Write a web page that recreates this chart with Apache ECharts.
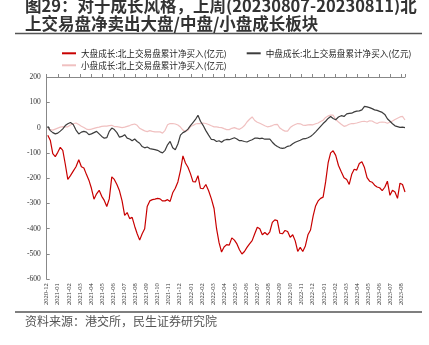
<!DOCTYPE html>
<html><head><meta charset="utf-8">
<script src="https://cdn.jsdelivr.net/npm/echarts@6/dist/echarts.min.js"></script>
<style>html,body{margin:0;padding:0;background:#fff}#c{width:429px;height:345px}</style>
</head><body><div id="c"></div>
<script>
// weekly observation dates (Fridays) starting here
const startDate = '2020-12-04';
const stepDays = 7;
const monthLabels = ['2020-12','2021-01','2021-02','2021-03','2021-04','2021-05','2021-06','2021-07','2021-08','2021-09','2021-10','2021-11','2021-12',
  '2022-01','2022-02','2022-03','2022-04','2022-05','2022-06','2022-07','2022-08','2022-09','2022-10','2022-11','2022-12',
  '2023-01','2023-02','2023-03','2023-04','2023-05','2023-06','2023-07','2023-08'];
const seriesNames = ['大盘成长:北上交易盘累计净买入(亿元)','中盘成长:北上交易盘累计净买入(亿元)','小盘成长:北上交易盘累计净买入(亿元)'];
const largeGrowth = [
  -30,-50,-103,-115,-98,-78,-90,-145,-205,-190,
  -172,-155,-127,-155,-160,-185,-208,-240,-283,-262,
  -248,-272,-288,-312,-282,-195,-205,-225,-250,-290,
  -347,-336,-360,-355,-390,-420,-445,-420,-400,-312,
  -290,-285,-283,-280,-282,-290,-290,-285,-292,-258,
  -240,-215,-170,-112,-140,-157,-182,-214,-215,-190,
  -240,-242,-225,-250,-282,-320,-400,-455,-492,-472,
  -463,-465,-436,-445,-460,-483,-500,-490,-474,-460,
  -447,-420,-394,-400,-424,-415,-424,-412,-375,-365,
  -368,-418,-420,-407,-411,-434,-424,-448,-490,-474,
  -490,-468,-424,-405,-350,-310,-290,-280,-275,-215,
  -140,-100,-92,-110,-150,-175,-198,-205,-225,-185,
  -165,-168,-142,-135,-158,-198,-212,-216,-228,-235,
  -238,-249,-236,-212,-268,-248,-255,-280,-220,-225,
  -255];
const midGrowth = [
  5,-12,-20,-25,-22,-14,-5,8,15,20,
  12,-10,-25,-18,-15,-18,-28,-25,-20,-15,
  -25,-35,-42,-40,-15,-2,-8,-20,-38,-35,
  -28,-42,-45,-52,-45,
  -55,-62,-75,-80,-77,-83,-85,-87,-90,-96,
  -100,-90,-68,-55,-80,-88,-65,-30,-20,-15,
  -6,8,20,32,49,25,9,-12,-30,-47,
  -48,-55,-52,-58,-50,
  -47,-48,-44,-40,-45,-52,-52,-55,-57,-52,
  -48,-42,-42,-44,-42,-46,-46,-46,-58,-68,
  -75,-80,-82,-80,-74,-72,-64,-58,-54,-50,
  -45,-44,-40,-35,-27,
  -17,-6,5,16,25,36,44,36,31,42,
  47,44,54,56,57,62,65,66,70,84,
  82,79,75,70,68,64,60,52,35,25,
  15,7,4,1,2,0];
const smallGrowth = [
  -5,-8,-10,-6,-2,2,4,3,3,10,
  15,18,12,5,0,-6,-8,-6,-3,0,
  2,5,6,6,8,9,4,4,2,0,
  2,5,8,
  12,14,9,-3,-8,-13,-16,-12,-15,-17,
  -17,-17,-22,-11,11,16,16,14,10,2,
  -10,-15,-10,4,8,14,16,16,18,16,
  12,7,3,3,1,
  0,-4,-8,-8,-3,0,-4,-7,-1,8,
  22,33,42,28,21,17,12,7,3,5,
  8,12,13,-2,-9,-14,-14,0,7,12,
  16,15,10,9,11,12,11,
  15,18,24,29,40,46,49,49,32,22,
  13,5,8,13,16,16,18,21,24,25,
  22,27,26,20,16,21,22,21,17,21,
  26,32,37,42,44,30];

const t0 = Date.parse(startDate + 'T00:00:00Z');
const dates = largeGrowth.map((_, i) => new Date(t0 + i * stepDays * 86400000));
function monthPos(d) {
  const y = d.getUTCFullYear(), m = d.getUTCMonth(), day = d.getUTCDate();
  const dim = new Date(Date.UTC(y, m + 1, 0)).getUTCDate();
  return (y - 2020) * 12 + (m - 11) + (day - 1) / dim;
}
const xs = dates.map(monthPos);
const xMax = xs[xs.length - 1];
const pairs = vals => vals.map((v, i) => [xs[i], v]);
const colors = ['#c80000', '#3c3c3c', '#f0c0c0'];

const chart = echarts.init(document.getElementById('c'));
const legendText = {fontSize: 8.6, fontFamily: 'Noto Sans CJK SC', color: '#222'};
chart.setOption({
  animation: false,
  title: [
    {text: '图29：对于成长风格，上周(20230807-20230811)北\n上交易盘净卖出大盘/中盘/小盘成长板块', left: 25, top: -3, padding: 0,
     textStyle: {fontSize: 16.5, fontWeight: 'bold', lineHeight: 17.5, color: '#333', fontFamily: 'Noto Sans CJK SC'}},
    {text: '资料来源：港交所，民生证券研究院', left: 25, top: 315, padding: 0,
     textStyle: {fontSize: 12, fontWeight: 'normal', color: '#555', fontFamily: 'Noto Sans CJK SC'}}
  ],
  graphic: [
    {type: 'line', shape: {x1: 15, y1: 33.5, x2: 422, y2: 33.5}, style: {stroke: '#555', lineWidth: 1.5}},
    {type: 'line', shape: {x1: 15, y1: 312, x2: 422, y2: 312}, style: {stroke: '#555', lineWidth: 1.5}}
  ],
  legend: [
    {data: [seriesNames[0], seriesNames[1]], left: 62, top: 49, padding: 0, itemWidth: 14, itemHeight: 2, itemGap: 20, icon: 'rect', textStyle: legendText},
    {data: [seriesNames[2]], left: 62, top: 61, padding: 0, itemWidth: 14, itemHeight: 2, icon: 'rect', textStyle: legendText}
  ],
  grid: {left: 46.7, right: 24, top: 77, bottom: 65.7},
  xAxis: [
    {type: 'value', min: 0, max: xMax, interval: 1, position: 'bottom',
     axisLine: {show: false}, axisTick: {show: false}, splitLine: {show: false},
     axisLabel: {rotate: 90, fontSize: 6.5, fontFamily: 'Liberation Serif', color: '#333', margin: 4,
       formatter: v => Math.abs(v - Math.round(v)) < 1e-6 ? (monthLabels[Math.round(v)] || '') : ''}},
    {type: 'value', min: 0, max: xMax, interval: 1, position: 'top',
     axisLine: {show: true, onZero: true, lineStyle: {color: '#888', width: 1}},
     axisTick: {show: true, length: 3, lineStyle: {color: '#888'}},
     axisLabel: {show: false}, splitLine: {show: false}}
  ],
  yAxis: {type: 'value', min: -600, max: 200, interval: 100,
    axisLine: {show: true, lineStyle: {color: '#888'}},
    axisTick: {show: true, inside: true, length: 3, lineStyle: {color: '#888'}},
    splitLine: {show: false},
    axisLabel: {fontSize: 7.5, fontFamily: 'Liberation Serif', color: '#333', margin: 6}},
  series: [
    {name: seriesNames[0], type: 'line', xAxisIndex: 0, data: pairs(largeGrowth), showSymbol: false, color: colors[0], lineStyle: {width: 1.2}, z: 4},
    {name: seriesNames[1], type: 'line', xAxisIndex: 0, data: pairs(midGrowth), showSymbol: false, color: colors[1], lineStyle: {width: 1.2}, z: 3},
    {name: seriesNames[2], type: 'line', xAxisIndex: 0, data: pairs(smallGrowth), showSymbol: false, color: colors[2], lineStyle: {width: 1.2}, z: 2}
  ]
});
</script></body></html>
